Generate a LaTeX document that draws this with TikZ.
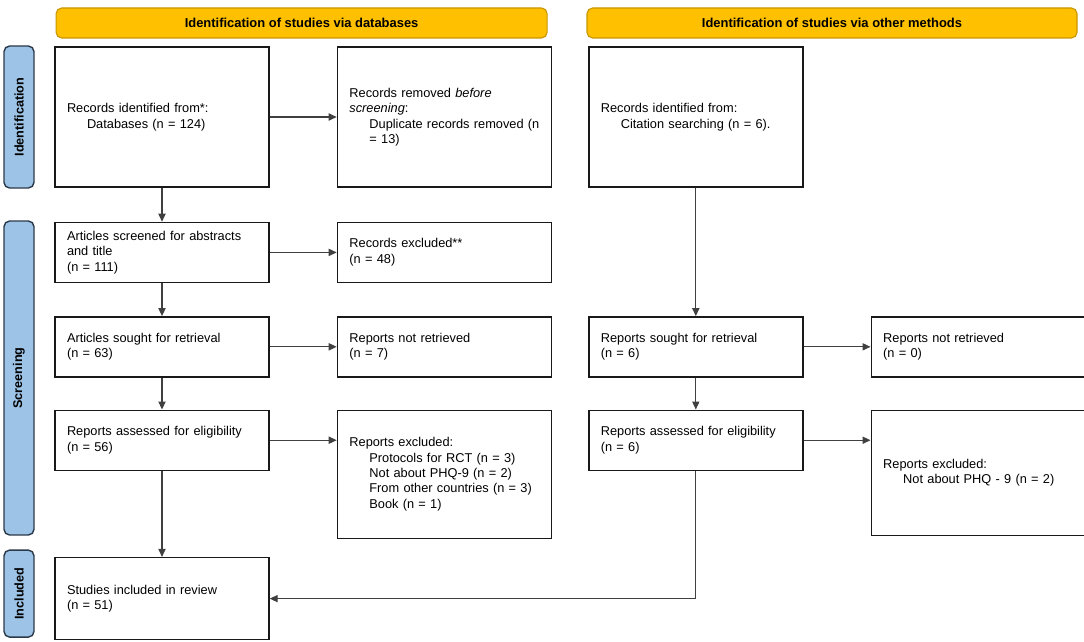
\documentclass[tikz,border=0pt]{standalone}
\usepackage{fontspec}
\setmainfont{Liberation Sans}
\usepackage{tikz}
\usetikzlibrary{arrows.meta,positioning}
\definecolor{HdrFill}{HTML}{FFC000}
\definecolor{HdrLine}{HTML}{C89600}
\definecolor{SideFill}{HTML}{9DC3E6}
\definecolor{SideLine}{HTML}{2B3A4A}
\definecolor{ArrGray}{HTML}{404040}

\begin{document}
\begin{tikzpicture}[
  rec/.style={draw=black!90,line width=1pt,fill=white,inner xsep=0.3cm,minimum height=1.5cm,
    text width=4.75cm,align=left,font=\fontsize{9.1}{11}\selectfont},
  hdr/.style={rounded corners=4pt,draw=HdrLine,line width=0.8pt,fill=HdrFill,
    minimum height=0.75cm,font=\fontsize{9.2}{11}\selectfont\bfseries},
  side/.style={rounded corners=4pt,draw=SideLine,line width=1pt,fill=SideFill,rotate=90,
    minimum height=0.75cm,font=\fontsize{9}{11}\selectfont\bfseries},
  arr/.style={-{Triangle[length=2mm,width=1.8mm]},line width=0.8pt,draw=ArrGray}
]
\useasboundingbox (0,0) rectangle (27.1,-16.05);
\node[hdr,minimum width=12.275cm] (dbhead) at (7.54,-0.575) {Identification of studies via databases};
\node[hdr,minimum width=12.25cm] (othhead) at (20.8,-0.575) {Identification of studies via other methods};
\node[side,minimum width=3.55cm] (sideid) at (0.475,-2.925) {Identification};
\node[side,minimum width=7.85cm] (sidescr) at (0.475,-9.45) {Screening};
\node[side,minimum width=2.175cm] (sideinc) at (0.475,-14.84) {Included};
% databases
\node[rec,minimum height=3.5cm] (recid) at (4.05,-2.925)
  {Records identified from*:\\\hspace*{0.5cm}Databases (n = 124)};
\node[rec,minimum height=3.5cm,right=1.675cm of recid] (removed)
  {Records removed \textit{before}\\\textit{screening}:\\\hspace*{0.5cm}Duplicate records removed (n\\\hspace*{0.5cm}= 13)};
\node[rec,below=0.85cm of recid] (screened)
  {Articles screened for abstracts\\and title\\(n = 111)};
\node[rec,right=1.675cm of screened] (excl) {Records excluded**\\(n = 48)};
\node[rec,below=0.825cm of screened] (sought) {Articles sought for retrieval\\(n = 63)};
\node[rec,right=1.675cm of sought] (notret) {Reports not retrieved\\(n = 7)};
\node[rec,below=0.8cm of sought] (assessed) {Reports assessed for eligibility\\(n = 56)};
\node[rec,minimum height=3.2cm,right=1.675cm of assessed.north east,anchor=north west] (rexcl)
  {Reports excluded:\\\hspace*{0.5cm}Protocols for RCT (n = 3)\\\hspace*{0.5cm}Not about PHQ-9 (n = 2)\\
   \hspace*{0.5cm}From other countries (n = 3)\\\hspace*{0.5cm}Book (n = 1)};
\node[rec,minimum height=2.05cm,below=2.15cm of assessed] (included)
  {Studies included in review\\(n = 51)};
% other methods
\node[rec,minimum height=3.5cm,right=0.9cm of removed] (citeid)
  {Records identified from:\\\hspace*{0.5cm}Citation searching (n = 6).};
\node[rec,right=0.9cm of notret] (citesought) {Reports sought for retrieval\\(n = 6)};
\node[rec,right=1.675cm of citesought] (citenotret) {Reports not retrieved\\(n = 0)};
\node[rec,below=0.8cm of citesought] (citeassessed) {Reports assessed for eligibility\\(n = 6)};
\node[rec,minimum height=3.125cm,right=1.675cm of citeassessed.north east,anchor=north west] (citeexcl)
  {Reports excluded:\\\hspace*{0.5cm}Not about PHQ - 9 (n = 2)};
% arrows
\draw[arr] (recid) -- (screened);
\draw[arr] (screened) -- (sought);
\draw[arr] (sought) -- (assessed);
\draw[arr] (assessed) -- (included);
\draw[arr] (recid) -- (removed);
\draw[arr] (screened) -- (excl);
\draw[arr] (sought) -- (notret);
\draw[arr] (assessed.east) -- (assessed.east -| rexcl.west);
\draw[arr] (citeid) -- (citesought);
\draw[arr] (citesought) -- (citeassessed);
\draw[arr] (citesought) -- (citenotret);
\draw[arr] (citeassessed.east) -- (citeassessed.east -| citeexcl.west);
\draw[arr] (citeassessed.south) |- (included.east);
\end{tikzpicture}
\end{document}
